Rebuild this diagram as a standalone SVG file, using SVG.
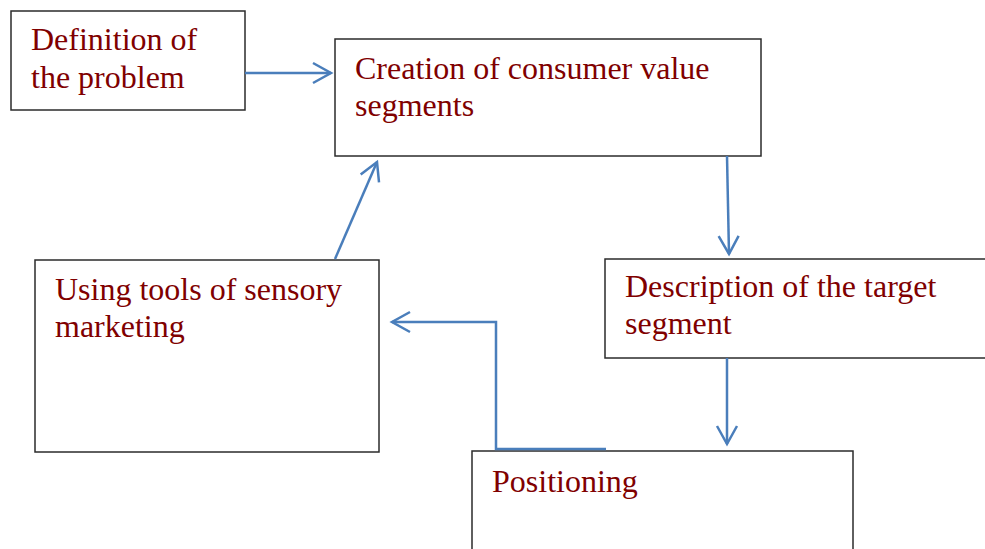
<svg xmlns="http://www.w3.org/2000/svg" width="985" height="549" viewBox="0 0 985 549">
<style>
.box{fill:#fff;stroke:#2b2b2b;stroke-width:1.5}
.t{font-family:"Liberation Serif","Times New Roman",serif;font-size:32px;fill:#800000}
.c{fill:none;stroke:#4a7ebb;stroke-width:2.5}
</style>
<defs>
<marker id="ah" markerUnits="userSpaceOnUse" markerWidth="26" markerHeight="26" viewBox="-22 -13 26 26" refX="0" refY="0" orient="auto">
<path d="M-18,-10 L0,0 L-18,10" fill="none" stroke="#4a7ebb" stroke-width="2.5"/>
</marker>
</defs>
<rect width="985" height="549" fill="#fff"/>
<g id="n1"><rect class="box" x="11" y="11" width="234" height="99"/><text class="t" x="31" y="50">Definition of</text><text class="t" x="31" y="88">the problem</text></g>
<g id="n2"><rect class="box" x="335" y="39" width="426" height="117"/><text class="t" x="355" y="79">Creation of consumer value</text><text class="t" x="355" y="116">segments</text></g>
<g id="n3"><rect class="box" x="605" y="259" width="390" height="99"/><text class="t" x="625" y="297">Description of the target</text><text class="t" x="625" y="334">segment</text></g>
<g id="n4"><rect class="box" x="35" y="260" width="344" height="192"/><text class="t" x="55" y="300">Using tools of sensory</text><text class="t" x="55" y="337">marketing</text></g>
<g id="n5"><rect class="box" x="472" y="451" width="381" height="110"/><text class="t" x="492" y="492">Positioning</text></g>
<g id="connectors">
<line class="c" x1="245" y1="73" x2="331" y2="73" marker-end="url(#ah)"/>
<line class="c" x1="335" y1="259" x2="377" y2="162" marker-end="url(#ah)"/>
<line class="c" x1="727" y1="156" x2="729" y2="254" marker-end="url(#ah)"/>
<line class="c" x1="727" y1="358" x2="727" y2="444" marker-end="url(#ah)"/>
<polyline class="c" points="606,449 496,449 496,322 392,322" marker-end="url(#ah)"/>
</g>
</svg>
